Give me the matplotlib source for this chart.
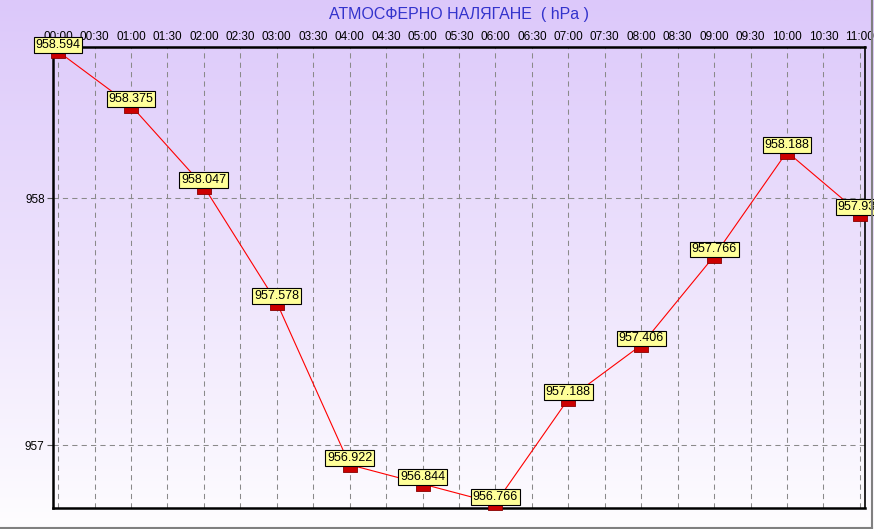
import matplotlib
matplotlib.use("Agg")
import matplotlib.pyplot as plt
import numpy as np
from matplotlib.path import Path

# data
tick_labels = ["00:00", "00:30", "01:00", "01:30", "02:00", "02:30", "03:00", "03:30",
               "04:00", "04:30", "05:00", "05:30", "06:00", "06:30", "07:00", "07:30",
               "08:00", "08:30", "09:00", "09:30", "10:00", "10:30", "11:00"]
hours = [0, 1, 2, 3, 4, 5, 6, 7, 8, 9, 10, 11]
pressure = [958.594, 958.375, 958.047, 957.578, 956.922, 956.844, 956.766,
            957.188, 957.406, 957.766, 958.188, 957.938]
y_ticks = [957, 958]

plt.rcParams['font.family'] = ['Liberation Sans', 'DejaVu Sans']

W, H = 874, 529
fig = plt.figure(figsize=(W / 100, H / 100), dpi=100)

# background gradient
bg = fig.add_axes([0, 0, 1, 1], zorder=0)
top = np.array([220, 200, 250]) / 255.0
bot = np.array([254, 253, 255]) / 255.0
t = np.linspace(0, 1, 256)[:, None]
grad = top * (1 - t) + bot * t
img = np.repeat(grad[:, None, :], 2, axis=1)
bg.imshow(img, aspect='auto', extent=[0, 1, 0, 1], origin='upper')
bg.set_axis_off()
# grey outer frame (right & bottom)
fig.add_artist(plt.Line2D([871.5 / W, 871.5 / W], [1 - 1 / H, 1 - 527.5 / H],
                          color='#808080', lw=1.5, transform=fig.transFigure))
fig.add_artist(plt.Line2D([0, 871.5 / W], [1 - 527.5 / H, 1 - 527.5 / H],
                          color='#808080', lw=1.5, transform=fig.transFigure))

left, right, ytop, ybot = 53, 865, 47, 508
ax = fig.add_axes([left / W, 1 - ybot / H, (right - left) / W, (ybot - ytop) / H], zorder=1)
ax.patch.set_alpha(0)

xs = [h * 2 for h in hours]
ax.set_xlim(-0.14, 22.14)
ax.set_ylim(956.747, 958.612)

ax.set_xticks(range(len(tick_labels)))
ax.set_xticklabels(tick_labels, fontsize=8.5)
ax.xaxis.tick_top()
ax.tick_params(axis='x', length=0, pad=3)
ax.set_yticks(y_ticks)
ax.set_yticklabels([str(v) for v in y_ticks], fontsize=8.5)
ax.tick_params(axis='y', length=4, width=0.8, color='#555555', pad=2)

ax.grid(True, linestyle=(0, (5, 4)), color='#8a8a8a', linewidth=0.75)
ax.set_axisbelow(True)

for s in ['left', 'top', 'bottom']:
    ax.spines[s].set_linewidth(1.8)
ax.spines['right'].set_linewidth(1.2)

# marker hangs below the data point
rect = Path([(-1, -1), (1, -1), (1, 0), (-1, 0), (-1, -1)],
            [Path.MOVETO, Path.LINETO, Path.LINETO, Path.LINETO, Path.CLOSEPOLY])
ax.plot(xs, pressure, color='#ff0000', lw=0.8, zorder=3, clip_on=False)
ax.plot(xs, pressure, linestyle='none', marker=rect, markersize=10,
        markerfacecolor='#cc0000', markeredgecolor='#880000', markeredgewidth=0.6,
        zorder=4, clip_on=False)

for x, y in zip(xs, pressure):
    ax.annotate(f"{y:.3f}", (x, y), xytext=(0, 4.8), textcoords='offset points',
                ha='center', va='center', fontsize=9, zorder=5,
                bbox=dict(boxstyle='square,pad=0.15', facecolor='#ffff99',
                          edgecolor='black', linewidth=0.8), annotation_clip=False)

fig.text(0.5 * (left + right) / W, 1 - 15 / H, "АТМОСФЕРНО НАЛЯГАНЕ  ( hPa )",
         ha='center', va='center', fontsize=11.5, color='#3333cc')

fig.savefig("out.png", dpi=100)
